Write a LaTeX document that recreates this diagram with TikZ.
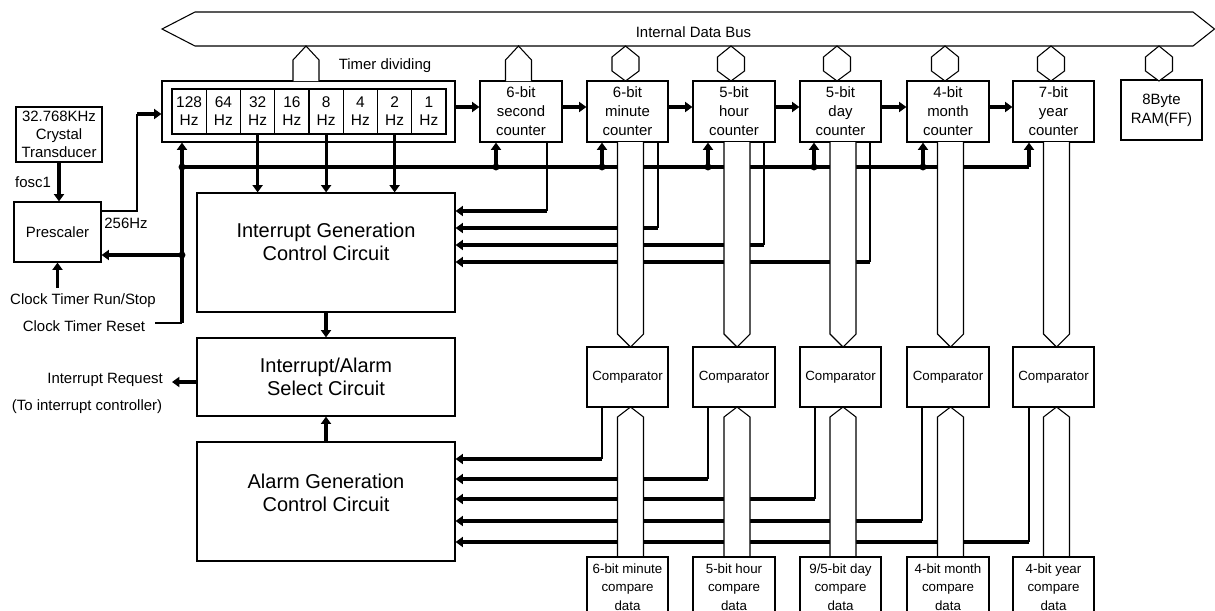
\documentclass[tikz,border=0pt]{standalone}
\usepackage{fontspec}
\setmainfont{Liberation Sans}
\usetikzlibrary{arrows.meta,calc}
\tikzset{
  bx/.style 2 args={draw, line width=0.9pt, minimum width=#1*0.75pt, minimum height=#2*0.75pt, inner sep=0pt, align=center},
  txt/.style={font=\fontsize{11.2}{14.25}\selectfont, inner sep=0pt, align=center},
  hzf/.style={font=\fontsize{11.6}{13.5}\selectfont},
  ctr/.style={font=\fontsize{11.2}{14.25}\selectfont},
  big/.style={font=\fontsize{15}{17.25}\selectfont, inner sep=0pt, align=center},
  sml/.style={font=\fontsize{10}{13.9}\selectfont},
  thk/.style={line width=2.4pt},
  thn/.style={line width=0.8pt},
  arr/.style={-{Triangle[length=5.5pt,width=7.5pt]}},
  busb/.style={draw, fill=white, line width=0.8pt, line join=miter},
  dot/.style={fill=black}
}
\begin{document}
\begin{tikzpicture}[x=0.75pt,y=-0.75pt]
\useasboundingbox (0,0) rectangle (1215,611);
\clip (0,0) rectangle (1215,611);
% internal data bus
\path[busb] (162,29) -- (195,12) -- (1193,12) -- (1214.5,29) -- (1193,46) -- (195,46) -- cycle;
\node[txt] (busl) at (693.5,32) {Internal Data Bus};
\node[txt] (tdl) at (385,66) {Timer dividing};

% boxes
\node[bx={86}{55}, font=\fontsize{11.2}{13.5}\selectfont] (xtal) at (59,134.5) {32.768KHz\\Crystal\\Transducer};
\node[bx={87}{60}, ctr] (pre) at (57.5,232) {Prescaler};
\node[bx={293}{61}] (tmr) at (308.5,111.5) {};
\foreach \f [count=\i from 0] in {128,64,32,16,8,4,2,1}
  \node[bx={34.25}{45}, hzf] (hz\f) at ({189.125+34.25*\i},111.5) {\f\\Hz};
\node[bx={82}{61}, ctr] (sec) at (521,111.5) {6-bit\\second\\counter};
\node[bx={81}{61}, ctr] (min) at (627.5,111.5) {6-bit\\minute\\counter};
\node[bx={82}{61}, ctr] (hour) at (734,111.5) {5-bit\\hour\\counter};
\node[bx={81}{61}, ctr] (day) at (840.5,111.5) {5-bit\\day\\counter};
\node[bx={82}{61}, ctr] (mon) at (948,111.5) {4-bit\\month\\counter};
\node[bx={81}{61}, ctr] (year) at (1053.5,111.5) {7-bit\\year\\counter};
\node[bx={81}{60}, ctr] (ram) at (1161.5,110) {8Byte\\RAM(FF)};

\node[bx={258}{119}] (igc) at (326,252.5) {};
\node[big] (igct) at (326,242) {Interrupt Generation\\Control Circuit};
\node[bx={258}{78}, big] (sel) at (326,377) {Interrupt/Alarm\\Select Circuit};
\node[bx={258}{119}] (agc) at (326,501.5) {};
\node[big] (agct) at (326,493) {Alarm Generation\\Control Circuit};

% labels
\node[txt] (fosc) at (33,182) {fosc1};
\node[txt] (f256) at (126,223) {256Hz};
\node[txt] (runstop) at (83,301) {Clock Timer Run/Stop};
\node[txt] (reset) at (84,326) {Clock Timer Reset};
\node[txt, anchor=east] (irq) at (163,380) {Interrupt Request};
\node[txt] (irqc) at (87,407) {(To interrupt controller)};

% left side connectors
\draw[thk,arr] (xtal.south) -- (xtal.south |- pre.north);
\coordinate (po1) at (137,211);
\coordinate (po2) at (137,114);
\draw[thn] (po1 -| pre.east) -- (po1) -- (po2);
\draw[thk,arr] (po2) -- (po2 -| tmr.west);
\coordinate (rsa) at (57.5,288);
\draw[thk,arr] (rsa) -- (rsa |- pre.south);
\coordinate (rst) at (155,323);
\coordinate (lv) at (182,323);
\coordinate (jp) at (182,255);
\coordinate (jl) at (182,167);
\coordinate (je) at (1029,167);
\draw[thn] (rst) -- (lv);
\draw[thk,arr] (lv) -- (lv |- tmr.south);
\draw[thk,arr] (jp) -- (jp -| pre.east);
\draw[thk] (jl) -- (je);
\draw[thk,arr] (je) -- (je |- year.south);
\fill[dot] (jp) circle (2.6pt);
\fill[dot] (jl) circle (2.6pt);
\foreach \x/\n in {496/sec,602/min,708/hour,814/day,923/mon}{
  \draw[thk,arr] (\x,167) -- (\x,167 |- \n.south);
  \fill[dot] (\x,167) circle (2.6pt);
}

% frequency taps
\foreach \f in {32,8,2}
  \draw[thk,arr] (hz\f.south) -- (hz\f.south |- igc.north);
\draw[thk,arr] (igc.south) -- (sel.north);
\draw[thk,arr] (agc.north) -- (sel.south);
\coordinate (iq) at (172,382);
\draw[thk,arr] (iq -| sel.west) -- (iq);

% counter chain
\foreach \a/\b in {tmr/sec,sec/min,min/hour,hour/day,day/mon,mon/year}
  \draw[thk,arr] ($(\a.east)+(0,-4.5)$) -- ($(\b.west)+(0,-4.5)$);

% interrupt lines
\foreach \n/\x/\y in {sec/547/211,min/658/228,hour/764/245,day/870/262}{
  \draw[thn] (\x,\y |- \n.south) -- (\x,\y);
  \draw[thk,arr] (\x,\y) -- (igc.east |- \x,\y);
}

% comparators and compare data
\node[bx={81}{60}, sml] (cmin) at (627.5,377) {Comparator};
\node[bx={82}{60}, sml] (chour) at (734,377) {Comparator};
\node[bx={81}{60}, sml] (cday) at (840.5,377) {Comparator};
\node[bx={82}{60}, sml] (cmon) at (948,377) {Comparator};
\node[bx={81}{60}, sml] (cyear) at (1053.5,377) {Comparator};

% alarm lines
\foreach \n/\x/\y in {cmin/602/459,chour/708/479,cday/815/499,cmon/922/521,cyear/1029/542}{
  \draw[thn] (\x,\y |- \n.south) -- (\x,\y);
  \draw[thk,arr] (\x,\y) -- (agc.east |- \x,\y);
}

% vertical buses
\foreach \x in {630.5,737,843,950.5,1056.5}{
  \path[busb] ({\x-13},142) -- ({\x-13},334) -- (\x,347) -- ({\x+13},334) -- ({\x+13},142);
  \path[busb] ({\x-13},557) -- ({\x-13},417) -- (\x,407) -- ({\x+13},417) -- ({\x+13},557);
}

\node[bx={81}{60}, sml, fill=white] (dmin) at (627.5,587) {6-bit minute\\compare\\data};
\node[bx={82}{60}, sml, fill=white] (dhour) at (734,587) {5-bit hour\\compare\\data};
\node[bx={81}{60}, sml, fill=white] (dday) at (840.5,587) {9/5-bit day\\compare\\data};
\node[bx={82}{60}, sml, fill=white] (dmon) at (948,587) {4-bit month\\compare\\data};
\node[bx={81}{60}, sml, fill=white] (dyear) at (1053.5,587) {4-bit year\\compare\\data};

% bus taps to the internal data bus
\foreach \x in {306,518.5}
  \path[busb] ({\x-13},81) -- ({\x-13},60) -- (\x,46) -- ({\x+13},60) -- ({\x+13},81);
\foreach \x in {625.5,731,837,945,1051,1159}
  \path[busb] (\x,46) -- ({\x+13.5},57) -- ({\x+13.5},71) -- (\x,81) -- ({\x-13.5},71) -- ({\x-13.5},57) -- cycle;
\end{tikzpicture}
\end{document}
